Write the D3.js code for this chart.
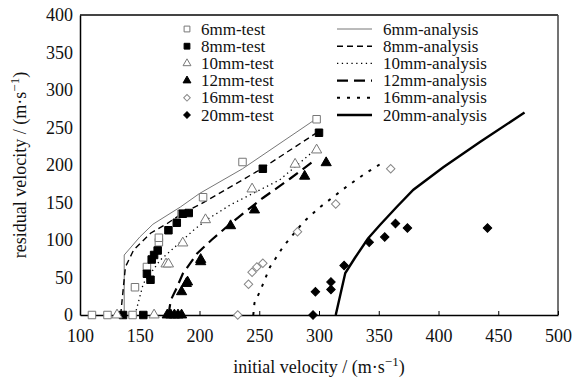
<!DOCTYPE html>
<html>
<head>
<meta charset="utf-8">
<script src="https://cdn.jsdelivr.net/npm/d3@7"></script>
<style>
  body { margin: 0; background: #fff; }
  svg text { font-family: "Liberation Serif", "Times New Roman", "DejaVu Serif", serif; }
</style>
</head>
<body>
<div id="chart"></div>
<script>
const FONT = "'Liberation Serif', 'Times New Roman', 'DejaVu Serif', serif";

// tick values
const xTicks = [100, 150, 200, 250, 300, 350, 400, 450, 500];
const yTicks = [0, 50, 100, 150, 200, 250, 300, 350, 400];

// test data [initial velocity, residual velocity]
const test6 = [[110,0],[123,0],[144,0],[146,37],[156,64],[166,97],[166,103],[185,135],[203,157],[236,204],[298,261]];
const test8 = [[136,0],[153,0],[156,55],[159,47],[160,74],[162,80],[165,86],[174,113],[181,123],[186,135],[191,136],[253,195],[300,243]];
const test10 = [[131,0],[162,0],[172,68],[174,68],[186,96],[205,127],[244,168],[280,201],[298,220]];
const test12 = [[173,0],[176,0],[179,0],[182,0],[185,0],[185,31],[189,42],[190,44],[201,71],[201,74],[226,119],[246,140],[288,185],[306,203]];
const test16 = [[232,0],[241,41],[244,57],[248,64],[253,69],[282,111],[314,148],[360,195]];
const test20 = [[295,0],[297,31],[310,34],[310,44],[321,66],[342,97],[355,104],[364,122],[374,116],[441,116]];

// analysis curves
const ana6 = [[137,0],[137,80],[150,104],[161,121],[184,144],[200,162],[236,195],[298,262]];
const ana8 = [[134,0],[138,64],[145,87],[159,109],[173,122],[186,136],[200,147],[252,195],[298,243]];
const ana10 = [[146,0],[153,42],[167,73],[181,93],[195,113],[206,127],[226,147],[267,180],[298,222]];
const ana12 = [[174,0],[176,20],[180,33],[186,55],[198,82],[210,100],[226,122],[253,156],[276,182],[297,207]];
const ana16 = [[245,0],[246,16],[251,33],[259,64],[270,91],[287,124],[301,144],[323,171],[339,189],[355,205]];
const ana20 = [[314,0],[322,56],[330,76],[341,102],[351,120],[365,144],[379,167],[404,197],[435,231],[472,270]];

const testNames = ["6mm-test","8mm-test","10mm-test","12mm-test","16mm-test","20mm-test"];
const anaNames = ["6mm-analysis","8mm-analysis","10mm-analysis","12mm-analysis","16mm-analysis","20mm-analysis"];

const W = 581, H = 387;
const margin = { left: 80, top: 15, right: 23, bottom: 72 };
const width = W - margin.left - margin.right;
const height = H - margin.top - margin.bottom;

const svg = d3.select("#chart").append("svg").attr("width", W).attr("height", H)
  .attr("font-family", FONT);

const x = d3.scaleLinear().domain([100, 500]).range([0, width]);
const y = d3.scaleLinear().domain([0, 400]).range([height, 0]);

const g = svg.append("g").attr("transform", `translate(${margin.left},${margin.top})`);

// box
g.append("line").attr("x1", 0).attr("x2", width).attr("y1", 0).attr("y2", 0)
  .attr("stroke", "#444").attr("stroke-width", 2);
g.append("line").attr("x1", width).attr("x2", width).attr("y1", 0).attr("y2", height)
  .attr("stroke", "#444").attr("stroke-width", 1.5);

// x axis
const gx = g.append("g").attr("transform", `translate(0,${height})`)
  .call(d3.axisBottom(x).tickValues(xTicks).tickSizeInner(-4).tickSizeOuter(0).tickPadding(14));
gx.attr("font-family", FONT);
gx.select(".domain").attr("stroke", "#000").attr("stroke-width", 1.5);
gx.selectAll(".tick text").attr("font-size", 18).attr("fill", "#111").style("font-family", FONT);
gx.selectAll(".tick line").attr("stroke", "#000");

// y axis
const gy = g.append("g")
  .call(d3.axisLeft(y).tickValues(yTicks).tickSize(0).tickPadding(7));
gy.attr("font-family", FONT);
gy.select(".domain").attr("stroke", "#000").attr("stroke-width", 1.5);
gy.selectAll(".tick text").attr("font-size", 18).attr("fill", "#111").style("font-family", FONT);

// axis titles
const xt = svg.append("text").attr("x", margin.left + width / 2).attr("y", 373)
  .attr("text-anchor", "middle").attr("font-size", 18).attr("fill", "#111");
xt.append("tspan").text("initial velocity / (m·s");
xt.append("tspan").attr("dy", -7).attr("font-size", 13).text("−1");
xt.append("tspan").attr("dy", 7).text(")");

const yt = svg.append("text")
  .attr("transform", `translate(26,${margin.top + height / 2}) rotate(-90)`)
  .attr("text-anchor", "middle").attr("font-size", 18).attr("fill", "#111");
yt.append("tspan").text("residual velocity / (m·s");
yt.append("tspan").attr("dy", -7).attr("font-size", 13).text("−1");
yt.append("tspan").attr("dy", 7).text(")");

// line styles
const anaStyles = [
  { data: ana6, stroke: "#777", width: 1, dash: null },
  { data: ana8, stroke: "#000", width: 1.4, dash: "6,4" },
  { data: ana10, stroke: "#000", width: 1.3, dash: "1.3,3.5" },
  { data: ana12, stroke: "#000", width: 2.2, dash: "11,6" },
  { data: ana16, stroke: "#000", width: 2, dash: "3,7" },
  { data: ana20, stroke: "#000", width: 2.4, dash: null }
];

const line = d3.line().x(d => x(d[0])).y(d => y(d[1]));
anaStyles.forEach(s => {
  g.append("path").datum(s.data).attr("d", line)
    .attr("fill", "none").attr("stroke", s.stroke)
    .attr("stroke-width", s.width).attr("stroke-dasharray", s.dash);
});

// markers
const markStyles = [
  { data: test6, type: d3.symbolSquare, size: 56, rot: 0, fill: "#fff", stroke: "#777" },
  { data: test8, type: d3.symbolSquare, size: 56, rot: 0, fill: "#000", stroke: "#000" },
  { data: test10, type: d3.symbolTriangle, size: 45, rot: 0, fill: "#fff", stroke: "#777" },
  { data: test12, type: d3.symbolTriangle, size: 45, rot: 0, fill: "#000", stroke: "#000" },
  { data: test16, type: d3.symbolSquare, size: 36, rot: 45, fill: "#fff", stroke: "#888" },
  { data: test20, type: d3.symbolSquare, size: 36, rot: 45, fill: "#000", stroke: "#000" }
];

markStyles.forEach(s => {
  g.append("g").selectAll("path").data(s.data).enter().append("path")
    .attr("d", d3.symbol().type(s.type).size(s.size))
    .attr("transform", d => `translate(${x(d[0])},${y(d[1])}) rotate(${s.rot})`)
    .attr("fill", s.fill).attr("stroke", s.stroke).attr("stroke-width", 1);
});

// legend
const legY0 = 29, legDy = 17.2;
const leg = svg.append("g");
markStyles.forEach((s, i) => {
  const ly = legY0 + i * legDy;
  leg.append("path")
    .attr("d", d3.symbol().type(s.type).size(s.size * 0.6))
    .attr("transform", `translate(187,${ly}) rotate(${s.rot})`)
    .attr("fill", s.fill).attr("stroke", s.stroke);
  leg.append("text").attr("x", 201).attr("y", ly + 5.5)
    .attr("font-size", 17).attr("fill", "#111").text(testNames[i]);
});
anaStyles.forEach((s, i) => {
  const ly = legY0 + i * legDy;
  leg.append("line").attr("x1", 337).attr("x2", 372).attr("y1", ly).attr("y2", ly)
    .attr("stroke", s.stroke).attr("stroke-width", s.width).attr("stroke-dasharray", s.dash);
  leg.append("text").attr("x", 383).attr("y", ly + 5.5)
    .attr("font-size", 17).attr("fill", "#111").text(anaNames[i]);
});
</script>
</body>
</html>
